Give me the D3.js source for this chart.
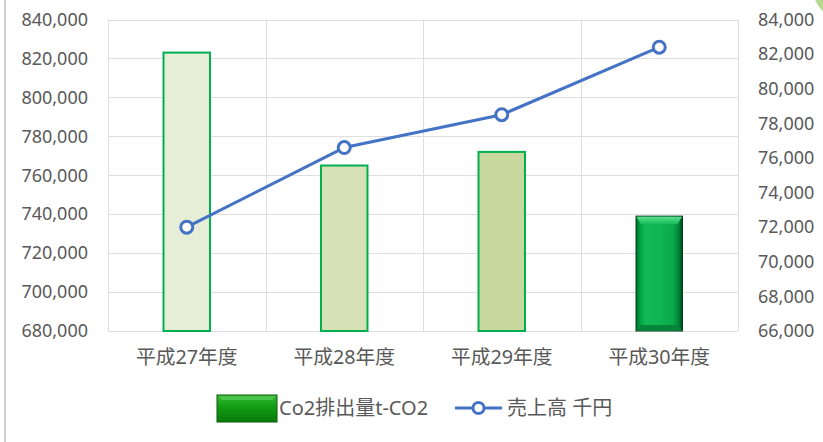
<!DOCTYPE html>
<html>
<head>
<meta charset="utf-8">
<script src="https://cdn.jsdelivr.net/npm/d3@7/dist/d3.min.js"></script>
<style>
  html, body { margin: 0; padding: 0; background: #fff; }
  svg { display: block; }
  text { font-family: "Noto Sans", "Noto Sans CJK JP", sans-serif; }
</style>
</head>
<body>
<svg id="chart" width="823" height="442"></svg>
<script>
// Fiscal years and the two series
const categories = ["平成27年度", "平成28年度", "平成29年度", "平成30年度"];
const co2Values = [823000, 765000, 772000, 739000];   // t-CO2 (left axis)
const salesValues = [72000, 76600, 78500, 82400];     // 千円 (right axis)
const leftTicks = [680000, 700000, 720000, 740000, 760000, 780000, 800000, 820000, 840000];
const rightTicks = [66000, 68000, 70000, 72000, 74000, 76000, 78000, 80000, 82000, 84000];
const seriesNames = ["Co2排出量t-CO2", "売上高 千円"];

// Bar styles (pale fills for earlier years, bevelled green for the latest)
const barFills = ["#e7eed8", "#d6e1b6", "#c9d89e", "url(#bevel)"];

const W = 823, H = 442;
const plot = { left: 108, right: 738, top: 19.5, bottom: 331 };

const svg = d3.select("#chart");
const defs = svg.append("defs");

// Horizontal gradient for the bevelled bar body
const g1 = defs.append("linearGradient").attr("id", "bevel").attr("x1", "0").attr("x2", "1").attr("y1", "0").attr("y2", "0");
[["0%", "#006b2c"], ["9%", "#00a446"], ["20%", "#11b957"], ["50%", "#0fb653"], ["80%", "#0aa84a"], ["91%", "#00883a"], ["100%", "#004a1c"]]
  .forEach(([o, c]) => g1.append("stop").attr("offset", o).attr("stop-color", c));
const g2 = defs.append("linearGradient").attr("id", "bevelTop").attr("x1", "0").attr("x2", "0").attr("y1", "0").attr("y2", "1");
[["0%", "#5de08e"], ["100%", "#15bb5a"]].forEach(([o, c]) => g2.append("stop").attr("offset", o).attr("stop-color", c));
const g3 = defs.append("linearGradient").attr("id", "legendBevel").attr("x1", "0").attr("x2", "0").attr("y1", "0").attr("y2", "1");
[["0%", "#33b833"], ["50%", "#109810"], ["100%", "#0a7a0a"]].forEach(([o, c]) => g3.append("stop").attr("offset", o).attr("stop-color", c));

// Frame decorations
svg.append("rect").attr("x", 0).attr("y", 0).attr("width", W).attr("height", H).attr("fill", "#fff");
svg.append("line").attr("x1", 5).attr("x2", 5).attr("y1", 0).attr("y2", H).attr("stroke", "#cfcfcf").attr("stroke-width", 2);
svg.append("circle").attr("cx", 850).attr("cy", -15).attr("r", 38).attr("fill", "#b5d98f");

// Scales
const x = d3.scaleBand().domain(categories).range([plot.left, plot.right]).padding(0);
const yL = d3.scaleLinear().domain([680000, 840000]).range([plot.bottom, plot.top]);
const yR = d3.scaleLinear().domain([66000, 84000]).range([plot.bottom, plot.top]);
const barW = x.bandwidth() * 0.295;

// Gridlines
const grid = svg.append("g").attr("stroke", "#dedede").attr("stroke-width", 1);
grid.selectAll("line.h").data(leftTicks).join("line")
  .attr("x1", plot.left).attr("x2", plot.right)
  .attr("y1", d => Math.round(yL(d)) + 0.5).attr("y2", d => Math.round(yL(d)) + 0.5);
const bounds = categories.map(c => x(c)).concat([plot.right]);
grid.selectAll("line.v").data(bounds).join("line")
  .attr("x1", d => Math.round(d) + 0.5).attr("x2", d => Math.round(d) + 0.5)
  .attr("y1", plot.top).attr("y2", plot.bottom);

// Axes
const fmt = d3.format(",");
const axL = svg.append("g").attr("transform", `translate(${plot.left - 20},0)`)
  .call(d3.axisLeft(yL).tickValues(leftTicks).tickFormat(fmt).tickSize(0).tickPadding(0));
const axR = svg.append("g").attr("transform", `translate(${plot.right + 20},0)`)
  .call(d3.axisRight(yR).tickValues(rightTicks).tickFormat(fmt).tickSize(0).tickPadding(0));
const axB = svg.append("g").attr("transform", `translate(0,${plot.bottom + 26})`)
  .call(d3.axisBottom(x).tickSize(0).tickPadding(0));
[axL, axR, axB].forEach(a => {
  a.select(".domain").remove();
  a.selectAll("text").attr("fill", "#595959").style("font-family", "'Noto Sans', 'Noto Sans CJK JP', sans-serif");
});
axL.selectAll("text").style("font-size", "18px");
axR.selectAll("text").style("font-size", "18px");
axB.selectAll("text").style("font-size", "19.8px").attr("dy", "0.35em");

// Bars
const bars = svg.append("g");
co2Values.forEach((v, i) => {
  const cx = x(categories[i]) + x.bandwidth() / 2;
  const x0 = cx - barW / 2, y0 = yL(v), h = yL(680000) - yL(v);
  if (i < 3) {
    bars.append("rect").attr("x", x0).attr("y", y0).attr("width", barW).attr("height", h)
      .attr("fill", barFills[i]).attr("stroke", "#00b050").attr("stroke-width", 2);
  } else {
    bars.append("rect").attr("x", x0).attr("y", y0).attr("width", barW).attr("height", h)
      .attr("fill", barFills[i]).attr("stroke", "#0a3d1a").attr("stroke-width", 1);
    // top bevel
    bars.append("path")
      .attr("d", `M${x0 + 0.5},${y0 + 0.5} L${x0 + barW - 0.5},${y0 + 0.5} L${x0 + barW - 5},${y0 + 8} L${x0 + 5},${y0 + 8} Z`)
      .attr("fill", "url(#bevelTop)");
    // bottom bevel
    bars.append("path")
      .attr("d", `M${x0 + 0.5},${y0 + h - 0.5} L${x0 + barW - 0.5},${y0 + h - 0.5} L${x0 + barW - 5},${y0 + h - 6} L${x0 + 5},${y0 + h - 6} Z`)
      .attr("fill", "#06853a");
  }
});

// Sales line with markers
const pts = salesValues.map((v, i) => [x(categories[i]) + x.bandwidth() / 2, yR(v)]);
svg.append("path").attr("d", d3.line()(pts)).attr("fill", "none")
  .attr("stroke", "#4472c4").attr("stroke-width", 3).attr("stroke-linejoin", "round");
svg.append("g").selectAll("circle").data(pts).join("circle")
  .attr("cx", d => d[0]).attr("cy", d => d[1]).attr("r", 6)
  .attr("fill", "#fff").attr("stroke", "#4472c4").attr("stroke-width", 3);

// Legend
const leg = svg.append("g");
leg.append("rect").attr("x", 217).attr("y", 395).attr("width", 60).attr("height", 27)
  .attr("fill", "url(#legendBevel)").attr("stroke", "#0a5a0a").attr("stroke-width", 1);
leg.append("path").attr("d", "M218,396 L276,396 L272,400 L222,400 Z").attr("fill", "#49c449");
leg.append("text").attr("x", 279).attr("y", 408).attr("dy", "0.35em")
  .attr("fill", "#595959").style("font-size", "20px").text(seriesNames[0]);
leg.append("line").attr("x1", 455).attr("x2", 502).attr("y1", 408).attr("y2", 408)
  .attr("stroke", "#4472c4").attr("stroke-width", 3);
leg.append("circle").attr("cx", 478.5).attr("cy", 408).attr("r", 5.5)
  .attr("fill", "#fff").attr("stroke", "#4472c4").attr("stroke-width", 3);
leg.append("text").attr("x", 507).attr("y", 408).attr("dy", "0.35em")
  .attr("fill", "#595959").style("font-size", "20px").text(seriesNames[1]);
</script>
</body>
</html>
